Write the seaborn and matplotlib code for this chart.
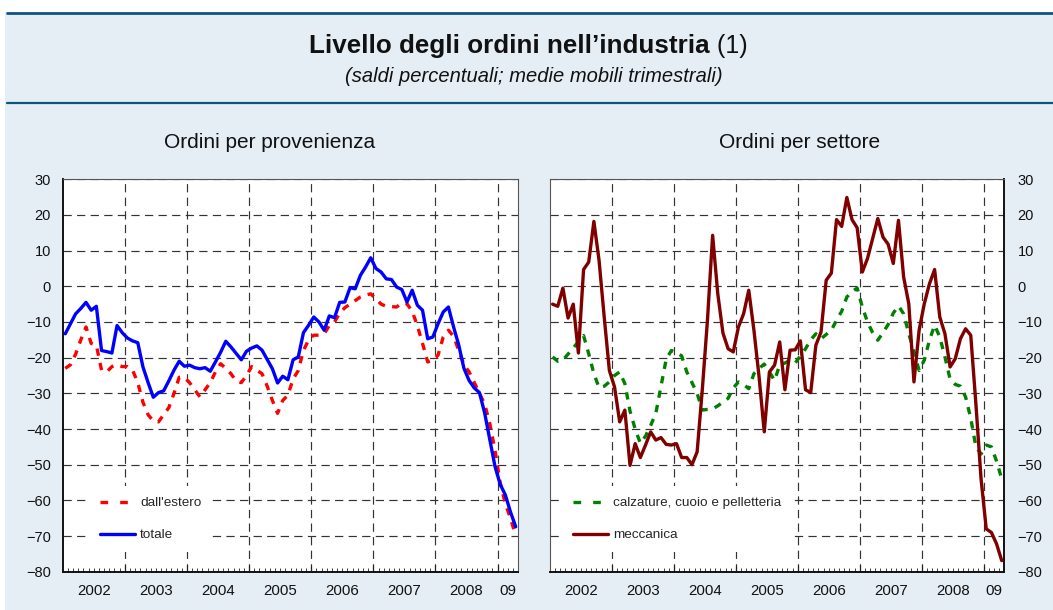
import numpy as np
import pandas as pd
import seaborn as sns
from matplotlib import pyplot as plt
from matplotlib.patches import Rectangle
from matplotlib.lines import Line2D

# --- data (monthly, Jan 2002 - Apr 2009) ---
year_labels = ["2002", "2003", "2004", "2005", "2006", "2007", "2008", "09"]
months_per_year = [12, 12, 12, 12, 12, 12, 12, 4]

totale = [
    -13.3, -10.5, -7.7, -6.2, -4.5, -6.7, -5.6, -18.0, -18.3, -18.7,
    -11.0, -13.0, -14.5, -15.3, -15.8, -22.6, -27.0, -31.1, -29.8, -29.3,
    -26.5, -23.5, -21.0, -22.4, -22.1, -22.8, -23.1, -22.8, -23.8, -21.2,
    -18.5, -15.4, -17.0, -18.8, -20.6, -18.2, -17.3, -16.7, -17.9, -20.5,
    -23.1, -27.1, -25.2, -26.2, -20.6, -19.8, -13.0, -10.9, -8.6, -10.0,
    -12.3, -8.3, -8.8, -4.5, -4.4, -0.4, -0.7, 3.1, 5.4, 8.0,
    5.0, 4.0, 2.1, 1.9, -0.2, -0.9, -4.4, -1.1, -5.3, -6.7,
    -14.7, -14.2, -10.5, -7.2, -5.8, -11.4, -16.5, -23.0, -26.4, -28.5,
    -29.8, -35.5, -43.0, -50.5, -55.5, -58.5, -63.3, -67.4,
]
dall_estero = [
    -23.0, -22.0, -19.0, -15.0, -11.4, -16.0, -16.5, -23.5, -24.0, -22.5,
    -22.0, -22.5, -22.5, -23.5, -27.0, -32.5, -36.0, -37.8, -38.0, -36.0,
    -34.0, -30.0, -25.5, -25.5, -27.0, -29.0, -31.0, -29.0, -27.0, -24.0,
    -21.7, -23.0, -24.5, -26.5, -27.0, -25.0, -22.5, -23.5, -24.5, -28.0,
    -32.0, -35.6, -32.0, -30.5, -26.0, -23.6, -18.0, -15.0, -13.7, -13.7,
    -13.3, -11.0, -10.0, -7.5, -6.0, -5.0, -4.0, -3.0, -2.5, -2.1,
    -3.5, -5.0, -5.6, -5.7, -5.8, -4.7, -4.9, -7.0, -11.0, -16.0,
    -21.2, -20.7, -19.3, -14.2, -12.3, -14.0, -18.0, -22.0, -24.0, -27.0,
    -30.0, -33.0, -38.5, -46.0, -55.0, -61.0, -65.0, -70.0,
]
calzature = [
    -19.8, -21.0, -20.7, -19.0, -17.3, -15.5, -13.8, -18.9, -24.5, -28.4,
    -28.0, -26.8, -25.0, -24.0, -27.3, -35.0, -40.0, -44.0, -42.0, -39.0,
    -35.6, -28.0, -20.5, -18.0, -18.5, -19.5, -24.0, -27.0, -30.0, -34.7,
    -34.5, -34.4, -33.5, -32.5, -31.4, -28.5, -26.8, -27.5, -28.7, -24.5,
    -23.0, -21.8, -24.0, -26.4, -22.0, -21.5, -20.7, -21.5, -19.5, -17.5,
    -15.0, -13.3, -14.7, -13.5, -12.3, -9.5, -7.0, -3.0, -1.5, -0.5,
    -5.8, -10.0, -13.0, -15.1, -13.0, -10.7, -7.5, -5.5, -7.7, -13.3,
    -18.4, -23.6, -20.7, -15.1, -10.9, -14.2, -19.8, -26.0, -27.5, -28.0,
    -31.0, -37.0, -45.0, -47.0, -44.5, -45.0, -49.0, -54.0,
]
meccanica = [
    -5.0, -5.6, -0.5, -8.9, -5.0, -18.7, 4.7, 6.8, 18.2, 7.3,
    -8.6, -23.6, -28.2, -38.0, -34.7, -50.2, -44.1, -48.0, -44.5, -40.8,
    -43.1, -42.4, -44.3, -44.5, -44.1, -48.0, -48.0, -50.0, -46.4, -29.0,
    -9.5, 14.3, -2.1, -13.1, -17.5, -18.4, -11.4, -7.7, -1.1, -12.3,
    -25.4, -40.8, -24.0, -22.1, -15.6, -29.0, -17.9, -17.8, -15.3, -29.0,
    -29.8, -16.5, -12.8, 1.7, 3.7, 18.7, 16.8, 24.9, 18.7, 16.4,
    4.0, 7.8, 13.4, 19.0, 13.8, 11.8, 6.4, 18.5, 2.6, -4.9,
    -26.8, -12.3, -4.9, 0.7, 4.7, -8.6, -13.3, -22.6, -20.3, -14.7,
    -11.9, -13.7, -33.0, -54.0, -68.0, -69.0, -72.2, -76.9,
]

W, H = 1053, 610
DARK = "#0d5680"
BG = "#e6eef5"

sns.set_theme(style="white")
plt.rcParams["font.family"] = ["Liberation Sans", "DejaVu Sans"]


def draw_panel(ax, series, right=False):
    n = len(series[0][1])
    month = np.arange(n)
    for label, values, color, dashed in series:
        df = pd.DataFrame({"month": month, "value": values})
        ls = (0, (2.2, 2.2)) if dashed else "-"
        sns.lineplot(data=df, x="month", y="value", ax=ax, color=color,
                     linewidth=2.4, linestyle=ls, label=label)

    bounds = np.cumsum(months_per_year)[:-1] - 0.5
    starts = np.concatenate([[0], np.cumsum(months_per_year)[:-1]])
    centers = starts + np.array(months_per_year) / 2 - 0.5

    ax.set_xlim(-0.5, n - 0.5)
    ax.set_ylim(-80, 30)
    ax.set_yticks(np.arange(-80, 31, 10))
    ax.set_xticks(bounds)
    ax.set_xticklabels([])
    ax.set_xticks(np.arange(0.5, n - 1, 1), minor=True)
    ax.tick_params(axis="x", which="major", direction="in", length=5,
                   width=0.8, color="#222222", bottom=True)
    ax.tick_params(axis="x", which="minor", direction="in", length=3,
                   width=0.6, color="#222222", bottom=True)
    ax.tick_params(axis="y", which="major", length=0, labelsize=10.5,
                   pad=9.5 if right else 8.6, colors="#111111")
    if right:
        ax.yaxis.tick_right()
    ax.grid(True, which="major", color="#333333", linewidth=0.85,
            linestyle=(0, (7, 4.5)))
    ax.set_xlabel("")
    ax.set_ylabel("")
    ax.set_facecolor("white")

    for s in ax.spines.values():
        s.set_color("#555555")
        s.set_linewidth(0.8)
    ax.spines["bottom"].set_color("#111111")
    ax.spines["bottom"].set_linewidth(1.4)
    side = "right" if right else "left"
    ax.spines[side].set_color("#111111")
    ax.spines[side].set_linewidth(1.4)

    for c, lab in zip(centers, year_labels):
        ax.text(c, -0.048, lab, transform=ax.get_xaxis_transform(),
                ha="center", va="center", fontsize=10.8, color="#111111")

    leg_x = 0.058 if not right else 0.027
    leg = ax.legend(loc="upper left", bbox_to_anchor=(leg_x, 0.218),
                    frameon=True, facecolor="white", edgecolor="none",
                    framealpha=1, fancybox=False, fontsize=9.7,
                    handlelength=2.6, handletextpad=0.4, labelspacing=1.45,
                    borderpad=0.8, borderaxespad=0)
    leg.set_zorder(5)
    # legend dashed handle: two longer-spaced dashes as in the original
    for handle, (_, _, _, dashed) in zip(leg.get_lines(), series):
        if dashed:
            handle.set_linestyle((0, (2.3, 3.6)))


fig = plt.figure(figsize=(W / 100, H / 100), dpi=100, facecolor="white")

# header / background
fig.add_artist(Rectangle((5 / W, 0), 1, (H - 12) / H, transform=fig.transFigure,
                         facecolor=BG, edgecolor="none", zorder=-10))
fig.add_artist(Line2D([7 / W, 1], [1 - 12.5 / H] * 2, color=DARK, linewidth=2.0))
fig.add_artist(Line2D([7 / W, 1], [1 - 102.5 / H] * 2, color=DARK, linewidth=1.6))

ax1 = fig.add_axes([62.7 / W, 1 - 571.7 / H, 455.6 / W, 392.4 / H])
ax2 = fig.add_axes([550 / W, 1 - 571.7 / H, 454.3 / W, 392.4 / H])

draw_panel(ax1, [("dall'estero", dall_estero, "#ff0000", True),
                 ("totale", totale, "#0000ff", False)])
draw_panel(ax2, [("calzature, cuoio e pelletteria", calzature, "#008000", True),
                 ("meccanica", meccanica, "#800000", False)], right=True)

# titles
renderer = fig.canvas.get_renderer()
ty = 1 - 46.5 / H
t1 = fig.text(0, ty, "Livello degli ordini nell’industria", fontsize=18.7,
              fontweight="bold", ha="left", va="center", color="#111111")
t2 = fig.text(0, ty, " (1)", fontsize=18, ha="left", va="center", color="#111111")
w1 = t1.get_window_extent(renderer).width
w2 = t2.get_window_extent(renderer).width
x0 = 528 - (w1 + w2) / 2
t1.set_x(x0 / W)
t2.set_x((x0 + w1) / W)

fig.text(533.5 / W, 1 - 76 / H, "(saldi percentuali; medie mobili trimestrali)",
         fontsize=14.5, style="italic", ha="center", va="center", color="#111111")
fig.text(270 / W, 1 - 143 / H, "Ordini per provenienza", fontsize=15,
         ha="center", va="center", color="#111111")
fig.text(800 / W, 1 - 143 / H, "Ordini per settore", fontsize=15,
         ha="center", va="center", color="#111111")

fig.savefig("out.png", dpi=100, facecolor=fig.get_facecolor())
